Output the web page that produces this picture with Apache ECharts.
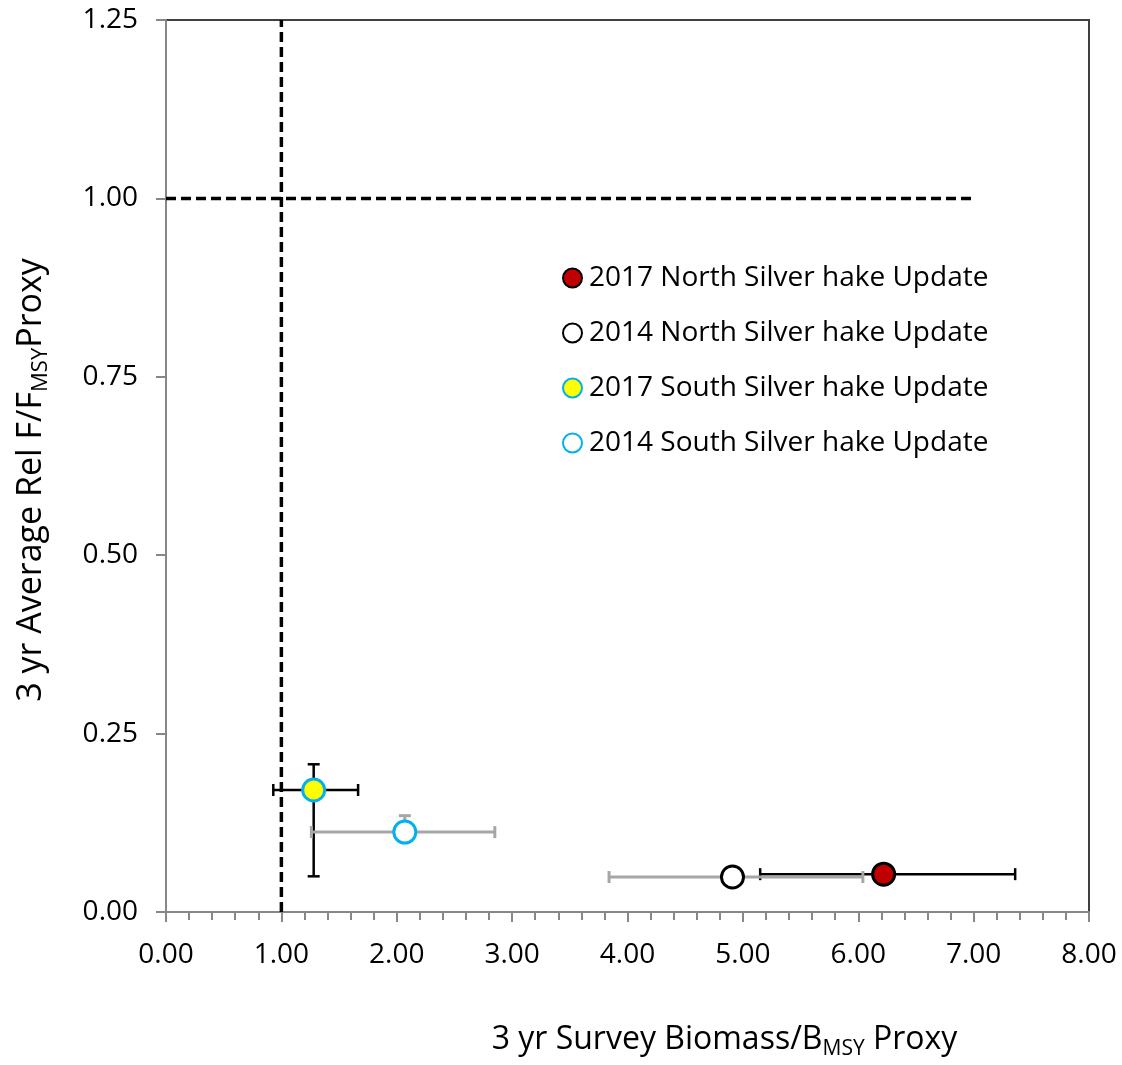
<!DOCTYPE html>
<html>
<head>
<meta charset="utf-8">
<script src="https://cdn.jsdelivr.net/npm/echarts@6/dist/echarts.min.js"></script>
<style>html,body{margin:0;padding:0;background:#fff;}#c{width:1122px;height:1065px;}</style>
</head>
<body>
<div id="c"></div>
<script>
// ---- data ----
const seriesNames = ['2017 North Silver hake Update', '2014 North Silver hake Update', '2017 South Silver hake Update', '2014 South Silver hake Update'];
const xVals = [6.22, 4.91, 1.28, 2.07];
const yVals = [0.053, 0.049, 0.171, 0.112];
const xLow  = [5.15, 3.84, 0.93, 1.26];
const xHigh = [7.36, 6.04, 1.665, 2.85];
const yLow  = [null, null, 0.05, 0.112];
const yHigh = [null, null, 0.207, 0.135];
const xTicks = [0, 1, 2, 3, 4, 5, 6, 7, 8];
const yTicks = [0, 0.25, 0.5, 0.75, 1.0, 1.25];
const refVertical = [[1, 0], [1, 1.25]];
const refHorizontal = [[0, 1], [7, 1]];

const fills = ['#C00000', '#FFFFFF', '#FFFF00', '#FFFFFF'];
const borders = ['#000000', '#000000', '#00B0F0', '#00B0F0'];
const barColors = ['#000000', '#A6A6A6', '#000000', '#A6A6A6'];
const barWidths = [2.5, 3, 2.5, 3];
const FONT = '"Open Sans", sans-serif';

const chart = echarts.init(document.getElementById('c'), null, {renderer: 'canvas', width: 1122, height: 1065});

const errData = xVals.map((x, i) => [x, yVals[i], xLow[i], xHigh[i], yLow[i] == null ? NaN : yLow[i], yHigh[i] == null ? NaN : yHigh[i], i]);

function renderErr(params, api) {
  const x = api.value(0), y = api.value(1), xl = api.value(2), xh = api.value(3), yl = api.value(4), yh = api.value(5), idx = api.value(6);
  const style = {stroke: barColors[idx], lineWidth: barWidths[idx], fill: null};
  const cap = 6;
  const children = [];
  const pl = api.coord([xl, y]), ph = api.coord([xh, y]);
  children.push({type: 'line', shape: {x1: pl[0], y1: pl[1], x2: ph[0], y2: ph[1]}, style});
  children.push({type: 'line', shape: {x1: pl[0], y1: pl[1] - cap, x2: pl[0], y2: pl[1] + cap}, style});
  children.push({type: 'line', shape: {x1: ph[0], y1: ph[1] - cap, x2: ph[0], y2: ph[1] + cap}, style});
  if (!isNaN(yh)) {
    const ql = api.coord([x, isNaN(yl) ? y : yl]), qh = api.coord([x, yh]);
    children.push({type: 'line', shape: {x1: ql[0], y1: ql[1], x2: qh[0], y2: qh[1]}, style});
    children.push({type: 'line', shape: {x1: qh[0] - cap, y1: qh[1], x2: qh[0] + cap, y2: qh[1]}, style});
    if (!isNaN(yl) && yl !== y) {
      children.push({type: 'line', shape: {x1: ql[0] - cap, y1: ql[1], x2: ql[0] + cap, y2: ql[1]}, style});
    }
  }
  return {type: 'group', children};
}

function subRich(size, subSize) {
  return {
    n: {fontSize: size, fontFamily: FONT, color: '#000', lineHeight: size + 8, verticalAlign: 'bottom'},
    sub: {fontSize: subSize, fontFamily: FONT, color: '#000', lineHeight: size + 8, verticalAlign: 'bottom', padding: [0, 0, -4, 0]}
  };
}

const scatterSeries = seriesNames.map((name, i) => ({
  name,
  type: 'scatter',
  data: [[xVals[i], yVals[i]]],
  symbol: 'circle',
  symbolSize: 22,
  z: 5,
  itemStyle: {color: fills[i], borderColor: borders[i], borderWidth: 3, opacity: 1}
}));

const option = {
  backgroundColor: '#fff',
  animation: false,
  grid: {left: 166, width: 923, top: 20, height: 900, show: true, borderColor: '#404040', borderWidth: 2},
  legend: {
    orient: 'vertical',
    left: 557,
    top: 257,
    itemWidth: 19,
    itemHeight: 19,
    itemGap: 23,
    data: seriesNames,
    textStyle: {fontFamily: FONT, fontSize: 28, color: '#000', lineHeight: 32, padding: [0, 0, 0, 2]}
  },
  xAxis: {
    type: 'value', min: 0, max: 8, interval: 1,
    axisLine: {show: true, lineStyle: {color: '#878787', width: 2}},
    axisTick: {show: true, length: 10, lineStyle: {color: '#878787', width: 2}},
    minorTick: {show: true, splitNumber: 5, length: 8, lineStyle: {color: '#878787', width: 2}},
    splitLine: {show: false},
    axisLabel: {fontFamily: FONT, fontSize: 28, color: '#000', margin: 29, formatter: v => v.toFixed(2)},
    name: '{n|3 yr Survey Biomass/B}{sub|MSY}{n| Proxy}',
    nameLocation: 'middle',
    nameGap: 104,
    nameTextStyle: {rich: subRich(32, 21), padding: [0, 0, 0, 194]}
  },
  yAxis: {
    type: 'value', min: 0, max: 1.25, interval: 0.25,
    axisLine: {show: true, lineStyle: {color: '#878787', width: 2}},
    axisTick: {show: true, length: 10, lineStyle: {color: '#878787', width: 2}},
    splitLine: {show: false},
    axisLabel: {fontFamily: FONT, fontSize: 28, color: '#000', margin: 28, formatter: v => v.toFixed(2)},
    name: '{n|3 yr Average Rel F/F}{sub|MSY}{n|Proxy}',
    nameLocation: 'middle',
    nameRotate: 90,
    nameGap: 118,
    nameTextStyle: {rich: subRich(34, 22), padding: [0, 28, 0, 0]}
  },
  series: [
    {type: 'line', data: refVertical, symbol: 'none', silent: true, z: 1,
     lineStyle: {color: '#000', width: 3.5, type: [10, 5]}},
    {type: 'line', data: refHorizontal, symbol: 'none', silent: true, z: 1,
     lineStyle: {color: '#000', width: 3.5, type: [10, 5]}},
    {type: 'custom', renderItem: renderErr, data: errData, z: 3, silent: true,
     encode: {x: [0, 2, 3], y: [1, 4, 5]}},
    ...scatterSeries
  ]
};
chart.setOption(option);
</script>
</body>
</html>
